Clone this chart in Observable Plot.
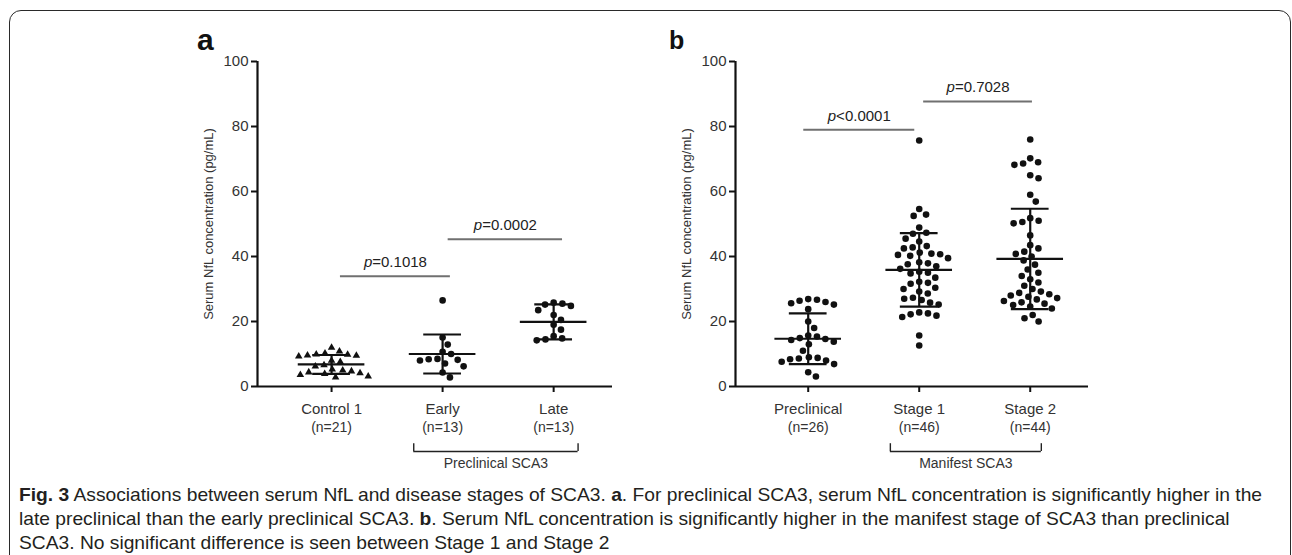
<!DOCTYPE html>
<html><head><meta charset="utf-8">
<script src="https://cdn.jsdelivr.net/npm/d3@7"></script>
<script src="https://cdn.jsdelivr.net/npm/@observablehq/plot@0.6"></script>
<style>
html,body{margin:0;padding:0;background:#fff;}
body{width:1292px;height:555px;position:relative;overflow:hidden;font-family:"Liberation Sans",Arial,sans-serif;}
#frame{position:absolute;left:9px;top:10px;width:1282px;height:700px;border:1.6px solid #2a2a2a;border-radius:12px;box-sizing:border-box;}
.panel{position:absolute;top:40px;}
#pa{left:150px;} #pb{left:630px;}
.letter{position:absolute;font-weight:bold;line-height:1;color:#111;}
#caption{position:absolute;left:19px;top:483px;font-family:"Liberation Sans",Arial,sans-serif;font-size:18.5px;line-height:24.2px;color:#231f20;white-space:nowrap;transform-origin:0 0;}
#caption b{font-weight:bold;}
</style></head>
<body>
<div id="frame"></div>
<div class="letter" style="left:197px;top:25px;font-size:30px">a</div>
<div class="letter" style="left:669px;top:28px;font-size:25px">b</div>
<div id="pa" class="panel"></div>
<div id="pb" class="panel"></div>
<div id="caption">
<div id="cl1"><b>Fig. 3</b> Associations between serum NfL and disease stages of SCA3. <b>a</b>. For preclinical SCA3, serum NfL concentration is significantly higher in the</div>
<div>late preclinical than the early preclinical SCA3. <b>b</b>. Serum NfL concentration is significantly higher in the manifest stage of SCA3 than preclinical</div>
<div>SCA3. No significant difference is seen between Stage 1 and Stage 2</div>
</div>
<script>
// ---------- data ----------
const catsA = ["Control 1", "Early", "Late"];
const nA = ["(n=21)", "(n=13)", "(n=13)"];
const control1 = [12.0, 10.8, 10.2, 9.9, 9.8, 9.6, 9.5, 9.3, 8.0, 7.6, 6.6, 6.2, 5.3, 5.0, 4.7, 4.4, 4.1, 3.9, 3.6, 3.1, 2.8];
const early = [26.5, 15.1, 12.9, 10.7, 10.0, 8.5, 8.2, 8.0, 8.4, 7.1, 6.2, 4.3, 2.8];
const late = [25.8, 25.5, 25.2, 24.8, 23.5, 22.0, 20.5, 19.0, 17.5, 15.5, 14.8, 14.5, 14.2];
const meanA = [6.8, 10.0, 19.9];
const sdA = [2.9, 6.0, 5.4];
const pLabelsA = ["p=0.1018", "p=0.0002"];
const pFromA = [1.08, 2.05];
const pToA = [2.07, 3.08];
const pLevelA = [33.9, 45.3];
const groupLabelA = "Preclinical SCA3";

const catsB = ["Preclinical", "Stage 1", "Stage 2"];
const nB = ["(n=26)", "(n=46)", "(n=44)"];
const preclinical = [26.9, 26.7, 26.4, 26.0, 25.6, 25.2, 23.8, 20.0, 18.0, 15.7, 15.4, 14.9, 14.6, 14.3, 13.8, 13.0, 11.0, 9.0, 8.8, 8.6, 8.4, 8.0, 7.6, 6.9, 4.4, 3.1];
const stage1 = [75.7, 54.6, 52.9, 52.5, 48.9, 47.3, 47.0, 45.5, 44.6, 43.2, 42.8, 42.5, 41.2, 40.9, 40.7, 40.5, 40.2, 39.5, 38.2, 37.9, 37.6, 37.0, 36.2, 35.3, 35.0, 34.8, 33.5, 32.2, 31.9, 31.6, 30.4, 30.0, 29.2, 28.6, 27.3, 27.0, 26.6, 25.8, 25.2, 22.8, 22.5, 22.2, 21.8, 21.4, 15.7, 12.6];
const stage2 = [76.0, 70.2, 69.0, 68.6, 68.2, 65.0, 64.1, 59.0, 56.9, 51.8, 51.0, 50.6, 50.2, 46.5, 43.5, 42.5, 41.5, 40.8, 40.0, 38.8, 37.5, 36.0, 35.0, 34.0, 33.0, 32.0, 31.0, 30.0, 29.2, 28.8, 28.4, 28.0, 27.6, 27.2, 26.8, 26.3, 25.9, 25.5, 25.1, 24.6, 24.0, 22.0, 21.0, 20.0];
const meanB = [14.7, 35.9, 39.25];
const sdB = [7.8, 11.3, 15.45];
const pLabelsB = ["p<0.0001", "p=0.7028"];
const pFromB = [0.96, 2.04];
const pToB = [1.96, 3.02];
const pLevelB = [79.0, 87.7];
const groupLabelB = "Manifest SCA3";

const yTicks = [0, 20, 40, 60, 80, 100];
const yLabel = "Serum NfL concentration (pg/mL)";

// ---------- helpers ----------
const FONT = "Liberation Sans, Arial, sans-serif";
const ctx = document.createElement("canvas").getContext("2d");
function tw(s, font) { ctx.font = font; return ctx.measureText(s).width; }

// beeswarm offsets (pixels -> x units), computed from the values
function swarm(vals, kx, ky, d) {
  const idx = d3.range(vals.length).sort((a, b) => d3.descending(vals[a], vals[b]));
  const pts = [], off = new Array(vals.length);
  for (const i of idx) {
    const y = vals[i] * ky;
    const cands = [0];
    for (const p of pts) {
      const dy = Math.abs(p.y - y);
      if (dy < d) { const dx = Math.sqrt(d * d - dy * dy); cands.push(p.x + dx, p.x - dx); }
    }
    cands.sort((a, b) => Math.abs(a) - Math.abs(b) || (b - a));
    let x = 0;
    for (const c of cands) {
      if (pts.every(p => (p.x - c) ** 2 + (p.y - y) ** 2 >= d * d - 1e-6)) { x = c; break; }
    }
    pts.push({x, y}); off[i] = x / kx;
  }
  return off;
}

function panel(o) {
  const W = 480, H = 440, MT = 21, MB = 94;
  const {ml, mr, xmin, xmax} = o;
  const kx = (W - ml - mr) / (xmax - xmin), ky = (H - MT - MB) / 100;
  const pts = [];
  o.groups.forEach((vals, gi) => {
    const off = swarm(vals, kx, ky, 8.8);
    vals.forEach((v, j) => pts.push({g: gi, x: gi + 1 + off[j], y: v}));
  });
  const summary = o.means.map((m, i) => ({x: i + 1, m, lo: m - o.sds[i], hi: m + o.sds[i]}));
  const pl = o.pLabels.map((t, i) => ({t, x1: o.pFrom[i], x2: o.pTo[i], y: o.pLevel[i], xc: (o.pFrom[i] + o.pTo[i]) / 2}));
  const pFont = "15px " + FONT, pItal = "italic 15px " + FONT;
  pl.forEach(d => { d.wp = tw("p", pItal); d.wr = tw(d.t.slice(1), pFont); d.tot = d.wp + d.wr; });
  const [bx1, bx2] = o.bracket;
  const marks = [
    // p-value bars and labels
    Plot.ruleY(pl, {x1: "x1", x2: "x2", y: "y", stroke: "#707070", strokeWidth: 2}),
    ...pl.map(d => Plot.text([d], {x: "xc", y: "y", text: () => "p", dx: -d.tot / 2, dy: -14, textAnchor: "start", fontStyle: "italic", fontSize: 15, fill: "#222"})),
    ...pl.map(d => Plot.text([d], {x: "xc", y: "y", text: dd => dd.t.slice(1), dx: -d.tot / 2 + d.wp, dy: -14, textAnchor: "start", fontSize: 15, fill: "#222"})),
    // points
    Plot.dot(pts.filter(d => o.triangleGroup === d.g), {x: "x", y: "y", symbol: "triangle", r: 2.8, fill: "#111", stroke: "none"}),
    Plot.dot(pts.filter(d => o.triangleGroup !== d.g), {x: "x", y: "y", r: 3.3, fill: "#111", stroke: "none"}),
    // mean ± SD
    Plot.ruleX(summary, {x: "x", y1: "lo", y2: "hi", stroke: "#111", strokeWidth: 2.2}),
    Plot.ruleY(summary, {y: "m", x1: d => d.x - 0.3, x2: d => d.x + 0.3, stroke: "#111", strokeWidth: 2.2}),
    Plot.ruleY(summary, {y: "lo", x1: d => d.x - 0.17, x2: d => d.x + 0.17, stroke: "#111", strokeWidth: 2.2}),
    Plot.ruleY(summary, {y: "hi", x1: d => d.x - 0.17, x2: d => d.x + 0.17, stroke: "#111", strokeWidth: 2.2}),
    // axes
    Plot.axisY({ticks: yTicks, tickSize: 6, tickPadding: 3, fontSize: 15, label: null, stroke: "#111", strokeWidth: 2, fill: "#333"}),
    Plot.ruleX([xmin], {y1: 0, y2: 100, stroke: "#111", strokeWidth: 2.2}),
    Plot.ruleY([0], {x1: xmin, x2: xmax, stroke: "#111", strokeWidth: 2.2}),
    Plot.axisX({ticks: [1, 2, 3], tickFormat: d => o.cats[d - 1], tickSize: 6, tickPadding: 11, fontSize: 15, label: null, stroke: "#111", strokeWidth: 2, fill: "#333"}),
    Plot.text(o.ns, {x: (d, i) => i + 1, y: 0, dy: 41, fontSize: 14, fill: "#333"}),
    Plot.text([yLabel], {frameAnchor: "left", textAnchor: "middle", rotate: -90, dx: -49, fontSize: 13, fill: "#333"}),
    // group bracket
    Plot.ruleY([0], {x1: bx1, x2: bx2, y: -20, stroke: "#222", strokeWidth: 1.4}),
    Plot.ruleX([bx1, bx2], {y1: -20, y2: -17.6, stroke: "#222", strokeWidth: 1.4}),
    Plot.text([o.groupLabel], {x: (bx1 + bx2) / 2, y: -23.8, fontSize: 14, fill: "#333"})
  ];
  return Plot.plot({
    width: W, height: H, marginTop: MT, marginBottom: MB, marginLeft: ml, marginRight: mr,
    x: {domain: [xmin, xmax], axis: null},
    y: {domain: [0, 100], axis: null},
    style: {fontFamily: FONT, overflow: "visible", background: "transparent", color: "#111"},
    marks
  });
}

document.getElementById("pa").append(panel({
  ml: 107, mr: 18, xmin: 0.333, xmax: 3.53,
  cats: catsA, ns: nA, groups: [control1, early, late], triangleGroup: 0,
  means: meanA, sds: sdA, pLabels: pLabelsA, pFrom: pFromA, pTo: pToA, pLevel: pLevelA,
  bracket: [1.74, 3.22], groupLabel: groupLabelA
}));
document.getElementById("pb").append(panel({
  ml: 105, mr: 22, xmin: 0.345, xmax: 3.525,
  cats: catsB, ns: nB, groups: [preclinical, stage1, stage2], triangleGroup: -1,
  means: meanB, sds: sdB, pLabels: pLabelsB, pFrom: pFromB, pTo: pToB, pLevel: pLevelB,
  bracket: [1.74, 3.1], groupLabel: groupLabelB
}));

// fit caption line 1 to the reference width by horizontal compression
const cl1 = document.getElementById("cl1");
const cap = document.getElementById("caption");
cl1.style.display = "inline-block";
const w = cl1.getBoundingClientRect().width;
cl1.style.display = "block";
cap.style.transform = "scaleX(" + (1243 / w).toFixed(4) + ")";
</script>
</body></html>
